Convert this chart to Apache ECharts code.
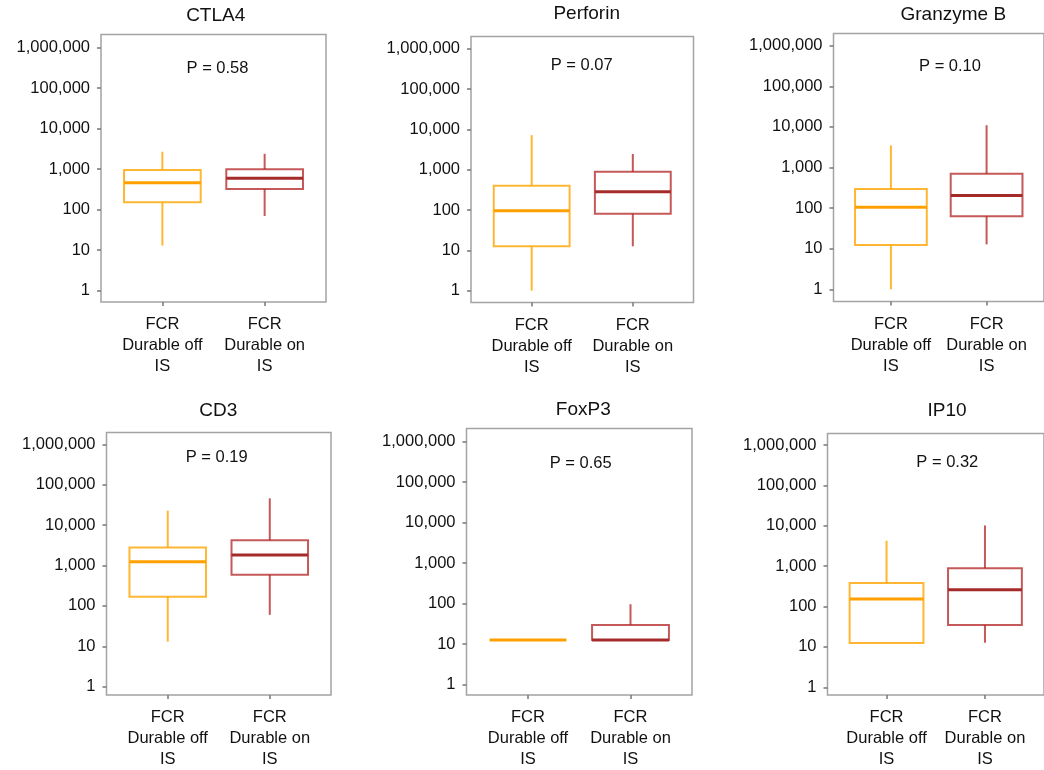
<!DOCTYPE html>
<html><head><meta charset="utf-8">
<script src="https://cdn.jsdelivr.net/npm/echarts@6/dist/echarts.min.js"></script>
<style>html,body{margin:0;padding:0;background:#fff}#c{width:1044px;height:770px}</style>
</head><body><div id="c"></div>
<script>
// ---- data ----
const markers = ['CTLA4', 'Perforin', 'Granzyme B', 'CD3', 'FoxP3', 'IP10'];
const categories = ['FCR\nDurable off\nIS', 'FCR\nDurable on\nIS'];
const pLabels = ['P = 0.58', 'P = 0.07', 'P = 0.10', 'P = 0.19', 'P = 0.65', 'P = 0.32'];
// [min, Q1, median, Q3, max]
const offStats = [
  [13, 152, 464, 955, 2700],
  [1, 12.6, 96, 400, 7200],
  [1, 12.3, 105, 295, 3500],
  [13, 168, 1240, 2800, 22800],
  [12.7, 12.7, 12.7, 12.7, 12.7],
  [12.5, 12.5, 154, 380, 4260]
];
const onStats = [
  [70, 324, 600, 1000, 2400],
  [12.6, 81, 285, 890, 2450],
  [12.8, 63, 203, 705, 11000],
  [60, 590, 1820, 4200, 46000],
  [12.7, 12.7, 12.7, 30, 97],
  [12.7, 35, 261, 890, 10200]
];
const yMin = 1, yMax = 1000000;

// ---- layout & style ----
const layout = [
  {left: 101, top: 34.5, width: 225, height: 267.5, tTop: 47.7, tBot: 290.7, title: [215.7, 15.7], p: [217.5, 68.7]},
  {left: 471, top: 36.5, width: 222.5, height: 266, tTop: 48.7, tBot: 290.7, title: [586.7, 13.7], p: [581.7, 65.3]},
  {left: 833.5, top: 33.5, width: 226, height: 268, tTop: 45.7, tBot: 289.3, title: [953.3, 14.5], p: [950, 66.7]},
  {left: 106.5, top: 432.5, width: 224.5, height: 265.5, tTop: 444.3, tBot: 686.7, title: [218.3, 410.5], p: [216.7, 457.7]},
  {left: 466.5, top: 428.5, width: 225.5, height: 268, tTop: 441.7, tBot: 684.7, title: [583.3, 410], p: [580.7, 463.7]},
  {left: 827.5, top: 433.5, width: 225, height: 265.5, tTop: 445, tBot: 687.3, title: [947, 411], p: [947.3, 462.5]}
];
const FONT = '"Liberation Sans", Arial, Helvetica, sans-serif';
const TEXT = '#111';
const styles = [
  {box: 'rgba(255,165,0,0.8)', med: '#FFA000'},
  {box: 'rgba(178,34,34,0.75)', med: '#A52A2A'}
];
const HALF = 0.375;

function makeRender(st) {
  return function (params, api) {
    const x = api.value(0);
    const mn = api.value(1), q1 = api.value(2), md = api.value(3), q3 = api.value(4), mx = api.value(5);
    const l = api.coord([x - HALF, md])[0];
    const r = api.coord([x + HALF, md])[0];
    const cx = api.coord([x, md])[0];
    const y = v => api.coord([x, v])[1];
    const ch = [];
    if (mx > q3) ch.push({type: 'line', shape: {x1: cx, y1: y(q3), x2: cx, y2: y(mx)}, style: {stroke: st.box, lineWidth: 2}});
    if (mn < q1) ch.push({type: 'line', shape: {x1: cx, y1: y(q1), x2: cx, y2: y(mn)}, style: {stroke: st.box, lineWidth: 2}});
    if (q3 > q1) ch.push({type: 'rect', shape: {x: l, y: y(q3), width: r - l, height: y(q1) - y(q3)}, style: {fill: 'none', stroke: st.box, lineWidth: 2}});
    ch.push({type: 'line', shape: {x1: l, y1: y(md), x2: r, y2: y(md)}, style: {stroke: st.med, lineWidth: 3}});
    return {type: 'group', children: ch};
  };
}

const grid = [], xAxis = [], yAxis = [], series = [], elements = [];
layout.forEach((L, i) => {
  const g0 = 2 * i, g1 = 2 * i + 1;
  grid.push({left: L.left, top: L.top, width: L.width, height: L.height, show: true,
    borderColor: '#a3a3a3', borderWidth: 1.5, backgroundColor: 'transparent', containLabel: false});
  grid.push({left: L.left, top: L.tTop, width: L.width, height: L.tBot - L.tTop, show: false, containLabel: false});
  xAxis.push({type: 'value', gridIndex: g0, min: -0.6, max: 1.6,
    axisLine: {show: false, onZero: false}, splitLine: {show: false},
    axisTick: {show: true, customValues: [0, 1], length: 4, lineStyle: {color: '#777', width: 1.5}},
    axisLabel: {customValues: [0, 1], formatter: v => categories[Math.round(v)],
      fontSize: 16.5, lineHeight: 21, color: TEXT, margin: 12, fontFamily: FONT}});
  xAxis.push({type: 'value', gridIndex: g1, min: -0.6, max: 1.6, show: false});
  yAxis.push({type: 'value', gridIndex: g0, min: 0, max: 1, show: false});
  yAxis.push({type: 'log', logBase: 10, gridIndex: g1, min: yMin, max: yMax, position: 'left',
    axisLine: {show: false, onZero: false}, splitLine: {show: false}, minorTick: {show: false},
    axisTick: {show: true, length: 4, lineStyle: {color: '#777', width: 1.5}},
    axisLabel: {formatter: v => Number(v).toLocaleString('en-US'), fontSize: 16.5, color: TEXT, margin: 11, fontFamily: FONT}});
  [offStats[i], onStats[i]].forEach((s, k) => {
    series.push({type: 'custom', xAxisIndex: g1, yAxisIndex: g1, silent: true,
      encode: {x: 0, y: [1, 2, 3, 4, 5]},
      data: [[k].concat(s)], renderItem: makeRender(styles[k])});
  });
  elements.push({type: 'text', x: L.title[0], y: L.title[1], silent: true,
    style: {text: markers[i], fontSize: 19, fontFamily: FONT, fill: TEXT, align: 'center', verticalAlign: 'middle'}});
  elements.push({type: 'text', x: L.p[0], y: L.p[1], silent: true,
    style: {text: pLabels[i], fontSize: 16.5, fontFamily: FONT, fill: TEXT, align: 'center', verticalAlign: 'middle'}});
});

const chart = echarts.init(document.getElementById('c'));
chart.setOption({animation: false, backgroundColor: '#fff', grid, xAxis, yAxis, series, graphic: {elements}});
</script></body></html>
